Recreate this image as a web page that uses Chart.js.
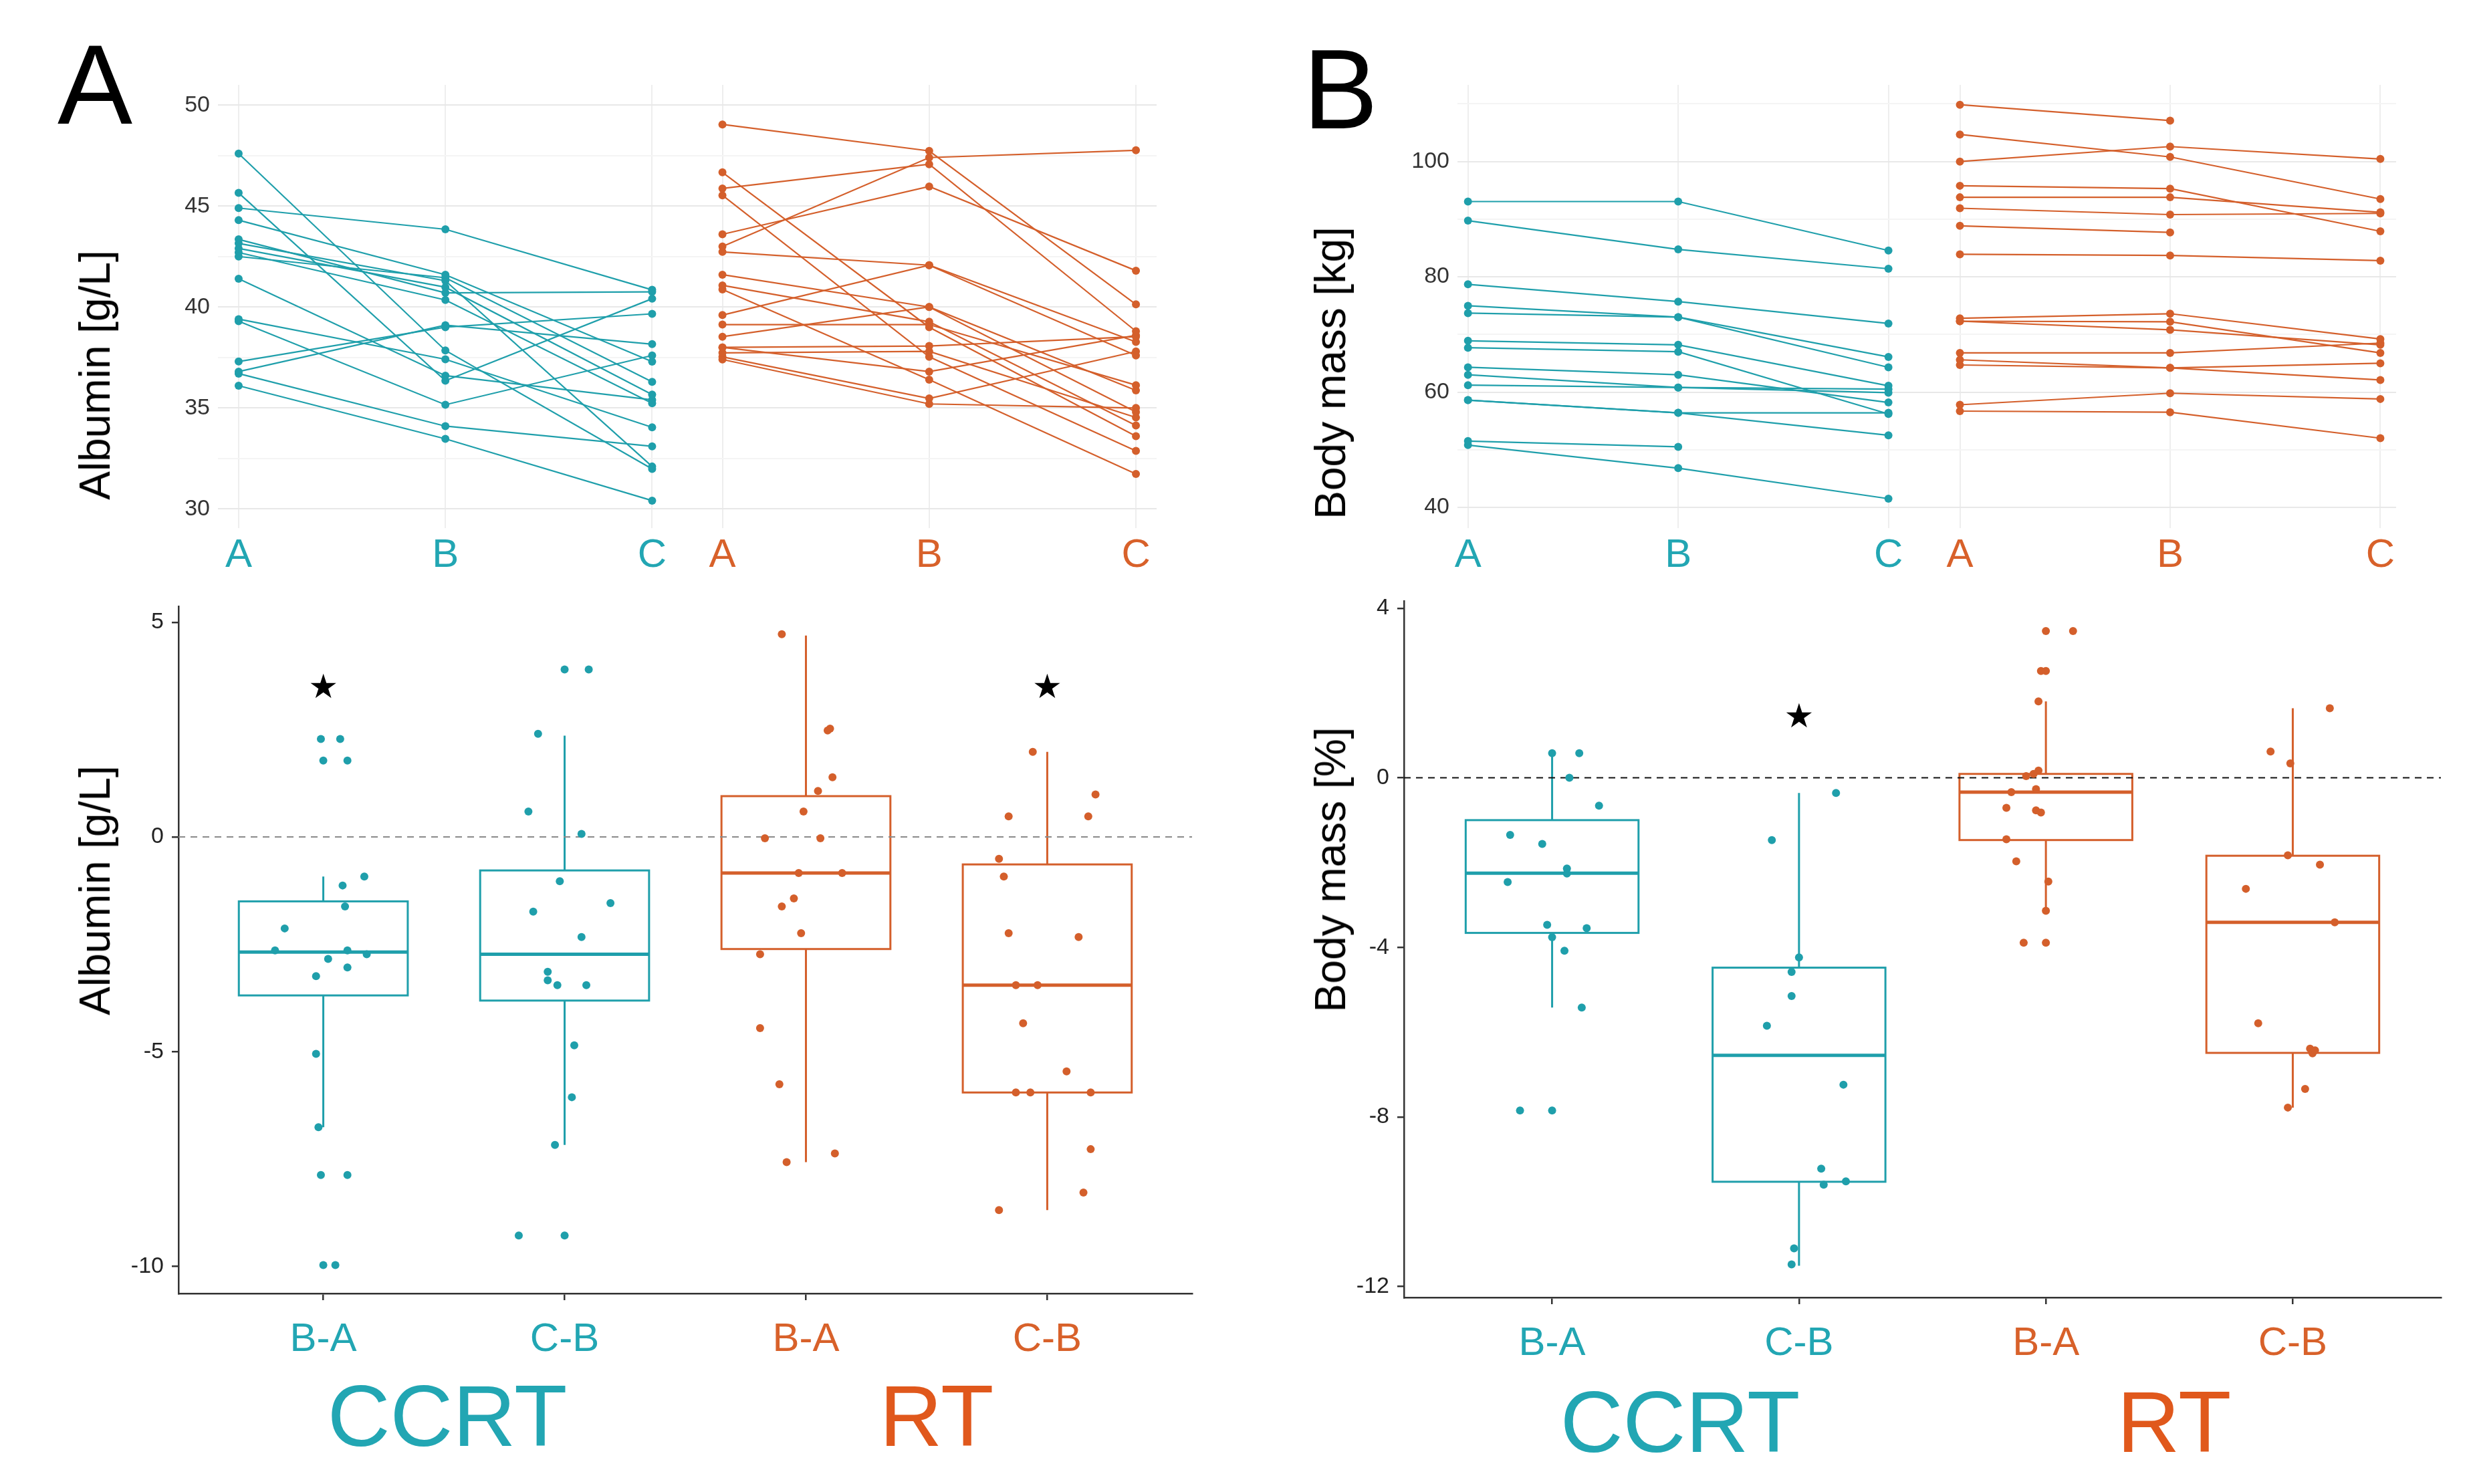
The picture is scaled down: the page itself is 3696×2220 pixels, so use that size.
<!DOCTYPE html>
<html>
<head>
<meta charset="utf-8">
<script src="https://cdn.jsdelivr.net/npm/chart.js@4.4.1/dist/chart.umd.min.js"></script>
<style>
  body { margin: 0; background: #fff; width: 3696px; height: 2220px; position: relative; overflow: hidden;
         font-family: "Liberation Sans", Arial, sans-serif; }
  .box { position: absolute; }
  .lbl { position: absolute; white-space: nowrap; line-height: 1; }
  .ytitle { position: absolute; white-space: nowrap; line-height: 1; font-size: 64px; color: #000;
            transform: translate(-50%, -50%) rotate(-90deg); }
  .mid { transform: translateX(-50%); }
</style>
</head>
<body>

<div class="lbl" style="left:86px; top:43px; font-size:168px;">A</div>
<div class="lbl" style="left:1949px; top:50px; font-size:168px;">B</div>

<div class="box" style="left:100px; top:121px; width:1636px; height:779px;"><canvas id="albTop"></canvas></div>
<div class="box" style="left:1954px; top:121px; width:1636px; height:779px;"><canvas id="bmTop"></canvas></div>
<div class="box" style="left:100px; top:901px; width:1689px; height:1144px;"><canvas id="albDiff"></canvas></div>
<div class="box" style="left:1900px; top:893px; width:1757px; height:1158px;"><canvas id="bmDiff"></canvas></div>

<div class="ytitle" style="left:142px; top:561px;">Albumin [g/L]</div>
<div class="ytitle" style="left:1990px; top:558px;">Body mass [kg]</div>
<div class="ytitle" style="left:142px; top:1332px;">Albumin [g/L]</div>
<div class="ytitle" style="left:1990px; top:1301px;">Body mass [%]</div>

<div class="lbl mid" style="left:669px; top:2053px; font-size:130px; color:#22a6b3;">CCRT</div>
<div class="lbl mid" style="left:1401px; top:2053px; font-size:130px; color:#e0581c;">RT</div>
<div class="lbl mid" style="left:2513px; top:2062px; font-size:130px; color:#22a6b3;">CCRT</div>
<div class="lbl mid" style="left:3252px; top:2062px; font-size:130px; color:#e0581c;">RT</div>

<script>
var TEAL = "#1f9fab";
var ORANGE = "#d45f2b";
var TEAL_TXT = "#22a6b3";
var ORANGE_TXT = "#d8612a";

// time points, CCRT at 0..2, RT shifted right
var timeLabels = ["A", "B", "C", "A", "B", "C"];
var ccrtPos = [0, 1, 2];
var rtPos = [2.34, 3.34, 4.34];

// albumin per patient at A, B, C
var albCcrtA = [47.6, 45.65, 44.9, 44.3, 43.35, 43.15, 42.9, 42.7, 42.5, 41.4, 39.4, 39.3, 37.3, 36.8, 36.7, 36.1];
var albCcrtB = [37.85, 36.35, 43.85, 41.6, 40.7, 41.3, 40.98, 40.35, 41.45, 36.6, 37.41, 35.16, 39.0, 39.1, 34.1, 33.47];
var albCcrtC = [31.98, 40.41, 40.85, 37.29, 40.75, 32.1, 35.66, 35.23, 36.29, 35.4, 34.04, 37.6, 39.66, 38.16, 33.1, 30.41];

var albRtA = [49.04, 46.67, 45.87, 45.53, 43.6, 43.0, 42.73, 41.6, 41.07, 40.87, 39.6, 39.13, 38.53, 38.0, 37.73, 37.53, 37.4, 38.0];
var albRtB = [47.73, 39.0, 47.07, 37.53, 45.97, 47.4, 42.07, 40.0, 39.27, 36.4, 42.07, 39.13, 40.0, 38.07, 37.8, 35.47, 35.2, 36.8];
var albRtC = [40.13, 33.6, 38.8, 32.87, 41.8, 47.76, 37.6, 34.8, 34.13, 31.73, 38.27, 36.13, 35.87, 38.53, 34.53, 37.8, 35.0, 38.6];

// body mass per patient at A, B, C (null = not measured)
var bmCcrtA = [93.06, 89.75, 78.7, 74.97, 73.7, 68.9, 67.7, 64.3, 63.0, 61.2, 58.6, 58.6, 51.5, 50.8];
var bmCcrtB = [93.06, 84.76, 75.7, 73.0, 73.0, 68.2, 67.0, 63.0, 60.8, 60.8, 56.4, 56.4, 50.5, 46.8];
var bmCcrtC = [84.57, 81.4, 71.9, 66.1, 64.3, 61.1, 56.2, 58.2, 59.9, 60.5, 56.4, 52.5, null, 41.5];

var bmRtA = [109.86, 104.7, 100, 95.8, 93.8, 91.9, 88.85, 83.9, 72.8, 72.3, 72.3, 66.8, 65.6, 64.7, 57.8, 56.7];
var bmRtB = [107.1, 100.8, 102.6, 95.3, 93.8, 90.8, 87.7, 83.7, 73.6, 72.2, 70.8, 66.8, 64.2, 64.2, 59.8, 56.5];
var bmRtC = [null, 93.5, 100.45, 87.9, 91.2, 91.0, null, 82.8, 69.2, 66.8, 68.2, 68.5, 65.0, 62.1, 58.8, 52.0];

// differences, bottom panels
var diffLabels = ["B-A", "C-B", "B-A", "C-B"];

var albCcrtBA = [2.28, 2.28, 1.78, 1.78, -0.92, -1.13, -1.62, -2.13, -2.64, -2.64, -2.73, -2.84, -3.04, -3.24, -5.05, -6.76, -7.87, -7.87, -9.97, -9.97];
var albCcrtBAJit = [-0.01, 0.07, 0, 0.10, 0.17, 0.08, 0.09, -0.16, -0.20, 0.10, 0.18, 0.02, 0.10, -0.03, -0.03, -0.02, -0.01, 0.10, 0, 0.05];
var albCcrtCB = [3.90, 3.90, 2.40, 0.59, 0.07, -1.03, -1.54, -1.74, -2.33, -3.14, -3.34, -3.45, -3.45, -4.85, -6.06, -7.17, -9.28, -9.28];
var albCcrtCBJit = [0, 0.10, -0.11, -0.15, 0.07, -0.02, 0.19, -0.13, 0.07, -0.07, -0.07, -0.03, 0.09, 0.04, 0.03, -0.04, -0.19, 0];
var albRtBA = [4.72, 2.48, 2.52, 1.39, 1.07, 0.59, -0.03, -0.03, -0.84, -0.84, -1.43, -1.62, -2.24, -2.73, -4.45, -5.76, -7.37, -7.57];
var albRtBAJit = [-0.10, 0.09, 0.10, 0.11, 0.05, -0.01, -0.17, 0.06, -0.03, 0.15, -0.05, -0.10, -0.02, -0.19, -0.19, -0.11, 0.12, -0.08];
var albRtCB = [1.98, 0.99, 0.48, 0.48, -0.51, -0.92, -2.24, -2.33, -3.45, -3.45, -4.34, -5.46, -5.95, -5.95, -5.95, -7.27, -8.28, -8.69];
var albRtCBJit = [-0.06, 0.20, -0.16, 0.17, -0.20, -0.18, -0.16, 0.13, -0.13, -0.04, -0.10, 0.08, -0.13, -0.07, 0.18, 0.18, 0.15, -0.20];

var albQ1 = [-3.69, -3.81, -2.61, -5.95];
var albMed = [-2.68, -2.73, -0.84, -3.45];
var albQ3 = [-1.50, -0.78, 0.95, -0.64];
var albLo = [-6.76, -7.17, -7.57, -8.69];
var albHi = [-0.92, 2.36, 4.69, 1.98];
var albStarX = [1, 4];
var albStarY = [3.44, 3.44];

var bmCcrtBA = [0.58, 0.58, 0.0, -0.66, -1.35, -1.56, -2.14, -2.26, -2.46, -3.47, -3.55, -3.76, -4.08, -5.42, -7.85, -7.85];
var bmCcrtBAJit = [0, 0.11, 0.07, 0.19, -0.17, -0.04, 0.06, 0.06, -0.18, -0.02, 0.14, 0, 0.05, 0.12, -0.13, 0];
var bmCcrtCB = [-0.36, -1.47, -4.24, -4.58, -5.15, -5.85, -7.24, -9.22, -9.6, -9.52, -11.1, -11.48];
var bmCcrtCBJit = [0.15, -0.11, 0, -0.03, -0.03, -0.13, 0.18, 0.09, 0.10, 0.19, -0.02, -0.03];
var bmRtBA = [3.46, 3.46, 2.52, 2.52, 1.80, 0.17, 0.04, 0.09, -0.27, -0.34, -0.71, -0.77, -0.82, -1.45, -1.97, -2.45, -3.14, -3.89, -3.89];
var bmRtBAJit = [0, 0.11, -0.02, 0, -0.03, -0.03, -0.08, -0.05, -0.04, -0.14, -0.16, -0.04, -0.02, -0.16, -0.12, 0.01, 0, -0.09, 0];
var bmRtCB = [1.64, 0.62, 0.34, -1.83, -2.05, -2.62, -3.41, -5.79, -6.39, -6.50, -6.43, -7.34, -7.78];
var bmRtCBJit = [0.15, -0.09, -0.01, -0.02, 0.11, -0.19, 0.17, -0.14, 0.07, 0.08, 0.09, 0.05, -0.02];

var bmQ1 = [-3.66, -9.53, -1.47, -6.49];
var bmMed = [-2.25, -6.55, -0.34, -3.41];
var bmQ3 = [-1.0, -4.48, 0.09, -1.84];
var bmLo = [-5.42, -11.51, -3.14, -7.78];
var bmHi = [0.58, -0.36, 1.80, 1.64];
var bmStarX = [2];
var bmStarY = [1.39];

Chart.defaults.font.family = '"Liberation Sans", Arial, sans-serif';

function fixedAxis(size, horizontal) {
  return function (scale) {
    if (horizontal) scale.height = size;
    else scale.width = size;
    scale.paddingTop = 0;
    scale.paddingBottom = 0;
    scale.paddingLeft = 0;
    scale.paddingRight = 0;
  };
}

function setTicks(values) {
  return function (scale) {
    scale.ticks = values.map(function (v) { return { value: v }; });
  };
}

function patientLines(a, b, c, xs, color) {
  var sets = [];
  for (var i = 0; i < a.length; i++) {
    var pts = [{ x: xs[0], y: a[i] }, { x: xs[1], y: b[i] }];
    if (c[i] !== null) pts.push({ x: xs[2], y: c[i] });
    sets.push({
      data: pts, showLine: true, borderColor: color, backgroundColor: color,
      borderWidth: 2.2, pointRadius: 6, pointBorderWidth: 0
    });
  }
  return sets;
}

function topChart(id, datasets, yMin, yMax, yTicks, labelEvery, xMin, xMax) {
  return new Chart(document.getElementById(id), {
    type: "scatter",
    data: { datasets: datasets },
    options: {
      animation: false,
      responsive: true,
      maintainAspectRatio: false,
      layout: { padding: 0 },
      plugins: { legend: { display: false }, tooltip: { enabled: false } },
      scales: {
        x: {
          type: "linear", min: xMin, max: xMax,
          afterBuildTicks: setTicks(ccrtPos.concat(rtPos)),
          afterFit: fixedAxis(110, true),
          border: { display: false },
          grid: { color: "#eeeeee", lineWidth: 2, drawTicks: false },
          ticks: {
            autoSkip: false, maxRotation: 0, padding: 5, font: { size: 60 },
            color: function (ctx) { return ctx.index < 3 ? TEAL_TXT : ORANGE_TXT; },
            callback: function (v, i) { return timeLabels[i]; }
          }
        },
        y: {
          min: yMin, max: yMax,
          afterBuildTicks: setTicks(yTicks),
          afterFit: fixedAxis(226, false),
          border: { display: false },
          grid: {
            lineWidth: 2, drawTicks: false,
            color: function (ctx) {
              return ctx.tick && ctx.tick.value % labelEvery === 0 ? "#e8e8e8" : "#f4f4f4";
            }
          },
          ticks: {
            padding: 12, font: { size: 34 }, color: "#333",
            callback: function (v) { return v % labelEvery === 0 ? v : ""; }
          }
        }
      }
    }
  });
}

function boxPlugin(q1, med, q3, lo, hi, starX, starY) {
  return {
    id: "boxPlot",
    beforeDatasetsDraw: function (chart) {
      var ctx = chart.ctx, xs = chart.scales.x, ys = chart.scales.y;
      ctx.save();
      for (var i = 0; i < med.length; i++) {
        var cx = xs.getPixelForValue(i + 1);
        var half = xs.getPixelForValue(i + 1.35) - cx;
        var top = ys.getPixelForValue(q3[i]);
        var bot = ys.getPixelForValue(q1[i]);
        var m = ys.getPixelForValue(med[i]);
        ctx.strokeStyle = i < 2 ? TEAL : ORANGE;
        ctx.lineWidth = 3;
        ctx.strokeRect(cx - half, top, half * 2, bot - top);
        ctx.beginPath();
        ctx.moveTo(cx, top);
        ctx.lineTo(cx, ys.getPixelForValue(hi[i]));
        ctx.moveTo(cx, bot);
        ctx.lineTo(cx, ys.getPixelForValue(lo[i]));
        ctx.stroke();
        ctx.lineWidth = 5;
        ctx.beginPath();
        ctx.moveTo(cx - half, m);
        ctx.lineTo(cx + half, m);
        ctx.stroke();
      }
      ctx.fillStyle = "#000";
      ctx.font = '50px "DejaVu Sans"';
      ctx.textAlign = "center";
      ctx.textBaseline = "middle";
      for (var k = 0; k < starX.length; k++) {
        ctx.fillText("\u2605", xs.getPixelForValue(starX[k]), ys.getPixelForValue(starY[k]));
      }
      ctx.restore();
    }
  };
}

function jitterSet(vals, jit, pos, color) {
  return {
    data: vals.map(function (v, k) { return { x: pos + jit[k], y: v }; }),
    backgroundColor: color, borderColor: color, pointRadius: 6, pointBorderWidth: 0
  };
}

function diffChart(id, groups, jits, yMin, yMax, yTicks, yWidth, zeroColor, plugin) {
  var colors = [TEAL, TEAL, ORANGE, ORANGE];
  var sets = groups.map(function (g, i) { return jitterSet(g, jits[i], i + 1, colors[i]); });
  sets.push({
    data: [{ x: 0.4, y: 0 }, { x: 4.6, y: 0 }], showLine: true, pointRadius: 0,
    borderColor: zeroColor, borderWidth: 2, borderDash: [10, 8]
  });
  return new Chart(document.getElementById(id), {
    type: "scatter",
    data: { datasets: sets },
    plugins: [plugin],
    options: {
      animation: false,
      responsive: true,
      maintainAspectRatio: false,
      layout: { padding: 0 },
      plugins: { legend: { display: false }, tooltip: { enabled: false } },
      scales: {
        x: {
          type: "linear", min: 0.4, max: 4.6,
          afterBuildTicks: setTicks([1, 2, 3, 4]),
          afterFit: fixedAxis(110, true),
          border: { display: true, color: "#333", width: 2.5 },
          grid: { drawOnChartArea: false, drawTicks: true, tickLength: 10, color: "#333", lineWidth: 2.5 },
          ticks: {
            autoSkip: false, maxRotation: 0, padding: 23, font: { size: 60 },
            color: function (ctx) { return ctx.index < 2 ? TEAL_TXT : ORANGE_TXT; },
            callback: function (v, i) { return diffLabels[i]; }
          }
        },
        y: {
          min: yMin, max: yMax,
          afterBuildTicks: setTicks(yTicks),
          afterFit: fixedAxis(yWidth, false),
          border: { display: true, color: "#333", width: 2.5 },
          grid: { drawOnChartArea: false, drawTicks: true, tickLength: 10, color: "#333", lineWidth: 2.5 },
          ticks: { padding: 12, font: { size: 34 }, color: "#222" }
        }
      }
    }
  });
}

topChart("albTop",
  patientLines(albCcrtA, albCcrtB, albCcrtC, ccrtPos, TEAL).concat(patientLines(albRtA, albRtB, albRtC, rtPos, ORANGE)),
  29.05, 51.0, [30, 32.5, 35, 37.5, 40, 42.5, 45, 47.5, 50], 5, -0.1, 4.44);

topChart("bmTop",
  patientLines(bmCcrtA, bmCcrtB, bmCcrtC, ccrtPos, TEAL).concat(patientLines(bmRtA, bmRtB, bmRtC, rtPos, ORANGE)),
  36.4, 113.3, [40, 50, 60, 70, 80, 90, 100, 110], 20, -0.05, 4.415);

diffChart("albDiff",
  [albCcrtBA, albCcrtCB, albRtBA, albRtCB],
  [albCcrtBAJit, albCcrtCBJit, albRtBAJit, albRtCBJit],
  -10.63, 5.37, [-10, -5, 0, 5], 167, "#8a8a8a",
  boxPlugin(albQ1, albMed, albQ3, albLo, albHi, albStarX, albStarY));

diffChart("bmDiff",
  [bmCcrtBA, bmCcrtCB, bmRtBA, bmRtCB],
  [bmCcrtBAJit, bmCcrtCBJit, bmRtBAJit, bmRtCBJit],
  -12.26, 4.17, [-12, -8, -4, 0, 4], 200, "#111",
  boxPlugin(bmQ1, bmMed, bmQ3, bmLo, bmHi, bmStarX, bmStarY));
</script>
</body>
</html>
